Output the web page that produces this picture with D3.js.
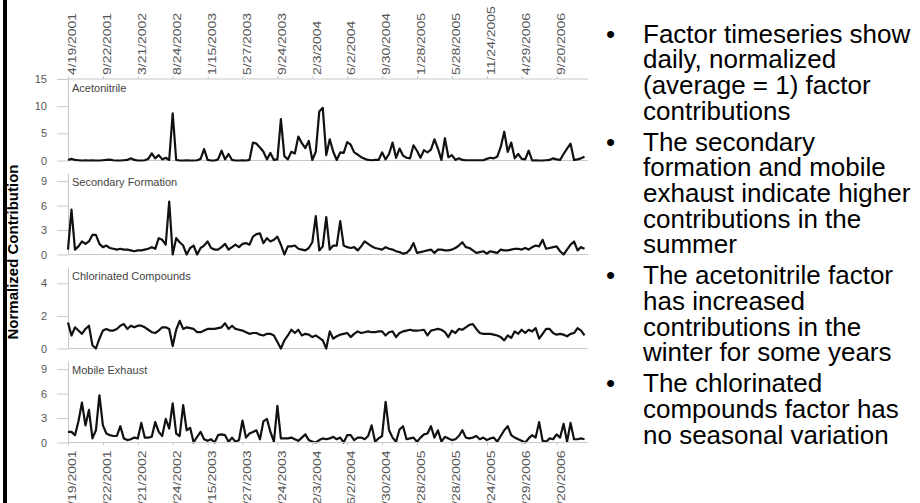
<!DOCTYPE html>
<html>
<head>
<meta charset="utf-8">
<title>Factor timeseries</title>
<script src="https://cdn.jsdelivr.net/npm/d3@7"></script>
<style>
  body { margin: 0; background: #fff; }
  svg { display: block; font-family: Arial, "Liberation Sans", sans-serif; }
  .axis .domain, .axis line { stroke: #c8c8c8; }
  .axis text { fill: #555; font-size: 11px; }
  .series { fill: none; stroke: #111; stroke-width: 2.2; stroke-linejoin: round; }
  .ptitle { fill: #444; font-size: 11px; }
  .bullets text { fill: #000; font-size: 26px; }
</style>
</head>
<body>
<svg id="chart" width="920" height="503"></svg>
<script>
// sample dates labelled every 10th sample
var dates = ["4/19/2001", "9/22/2001", "3/21/2002", "8/24/2002", "1/15/2003", "5/27/2003",
  "9/24/2003", "2/3/2004", "6/2/2004", "9/30/2004", "1/28/2005", "5/28/2005",
  "11/24/2005", "4/29/2006", "9/20/2006"];

var factorNames = ["Acetonitrile", "Secondary Formation", "Chlorinated Compounds", "Mobile Exhaust"];
var yMax = [15, 10, 5, 10];
var yTicks = [[0, 5, 10, 15], [0, 3, 6, 9], [0, 2, 4], [0, 3, 6, 9]];

var acetonitrile = [
  0.1, 0.3, 0.1, 0.05, 0, 0.05, 0, 0.05, 0, 0, 0.05, 0.1, 0.15, 0.05, 0, 0, 0.05, 0.1, 0.4, 0.1,
  0, 0, 0.05, 0.3, 1.3, 0.4, 1.0, 0.2, 0.5, 0.1, 8.7, 0.1, 0, 0, 0.05, 0, 0, 0.05, 0.3, 2.1,
  0.1, 0, 0, 0.2, 1.8, 0.2, 1.2, 0.1, 0, 0, 0.05, 0, 0.1, 3.3, 3.1, 2.4, 1.6, 0.2, 1.4, 0.1,
  0.2, 7.6, 0.8, 0.2, 1.6, 1.3, 4.4, 3.2, 2.3, 3.6, 0.1, 1.6, 9.0, 9.7, 1.0, 3.9, 1.6, 0.1, 1.5, 1.4,
  3.4, 2.9, 1.5, 1.1, 0.6, 0.3, 0.1, 0.05, 0.1, 0.1, 1.5, 0.2, 1.2, 3.3, 0.5, 2.2, 0.9, 0.5, 0.4, 2.8,
  1.8, 0.5, 1.9, 1.5, 2.0, 3.9, 2.2, 0.1, 4.1, 0.6, 1.0, 0.1, 0.4, 0.1, 0.05, 0.05, 0.05, 0.05, 0.05, 0.05,
  0.3, 0.5, 0.4, 0.7, 2.5, 5.3, 1.6, 3.3, 0.4, 1.2, 0.3, 0.2, 1.8, 0.0, 0.05, 0, 0, 0.05, 0.1, 0.4,
  0.2, 0.1, 1.2, 2.2, 3.1, 0.1, 0.2, 0.4, 0.7
];

var secondaryFormation = [
  0.6, 5.5, 0.6, 1.0, 1.6, 1.3, 1.6, 2.4, 2.4, 1.3, 0.9, 1.1, 0.8, 0.7, 0.6, 0.7, 0.6, 0.6, 0.5, 0.4,
  0.5, 0.5, 0.6, 0.7, 0.9, 0.7, 2.0, 1.8, 1.2, 6.5, 0.0, 2.0, 1.5, 1.1, 0.0, 0.8, 1.1, 0.0, 0.8, 1.1,
  1.6, 0.8, 0.6, 0.6, 0.9, 1.3, 0.6, 0.9, 1.2, 0.9, 1.3, 1.4, 1.2, 2.2, 2.5, 2.6, 1.4, 2.0, 1.6, 1.8,
  2.2, 1.2, 0.0, 1.0, 1.0, 1.1, 0.7, 0.6, 0.5, 0.8, 1.5, 4.7, 0.5, 1.0, 4.6, 0.6, 1.1, 1.1, 4.1, 1.1,
  0.9, 0.8, 0.9, 0.5, 1.0, 1.6, 1.3, 1.0, 0.8, 0.7, 0.6, 0.9, 0.7, 0.6, 0.4, 0.3, 0.1, 0.2, 0.6, 1.4,
  0.2, 0.3, 0.4, 0.5, 0.6, 0.2, 0.6, 0.6, 0.5, 0.5, 0.6, 0.8, 1.1, 1.5, 0.9, 0.8, 0.5, 0.2, 0.3, 0.4,
  0.1, 0.4, 0.3, 0.2, 0.6, 0.5, 0.5, 0.6, 0.7, 0.7, 0.6, 0.8, 0.6, 0.9, 1.1, 1.0, 1.8, 0.7, 0.8, 0.9,
  1.0, 0.4, 0.0, 0.6, 1.2, 1.6, 0.5, 0.9, 0.7
];

var chlorinated = [
  1.6, 0.8, 1.3, 1.1, 0.9, 1.2, 1.4, 0.2, 0.0, 0.6, 1.1, 1.2, 1.1, 1.1, 1.2, 1.4, 1.5, 1.2, 1.4, 1.3,
  1.4, 1.4, 1.3, 1.15, 1.0, 0.95, 1.1, 1.3, 1.3, 1.2, 0.15, 1.15, 1.7, 1.2, 1.3, 1.25, 1.2, 1.0, 1.0, 1.1,
  1.2, 1.2, 1.2, 1.25, 1.3, 1.55, 1.2, 1.4, 1.2, 1.15, 1.1, 1.0, 0.9, 0.95, 0.95, 0.85, 0.8, 0.9, 0.9, 0.8,
  0.4, 0.0, 0.5, 0.8, 1.15, 0.95, 1.15, 0.8, 0.9, 0.85, 0.7, 0.8, 0.65, 0.5, 0.0, 1.05, 0.6, 0.75, 0.85, 0.9,
  0.95, 0.7, 0.9, 1.05, 0.95, 1.0, 1.05, 1.0, 1.0, 1.05, 1.05, 0.8, 1.0, 1.05, 0.7, 0.95, 1.05, 1.1, 1.15, 1.1,
  1.1, 1.12, 1.15, 0.8, 1.1, 1.15, 1.2, 1.15, 1.0, 0.7, 1.1, 0.95, 1.2, 1.15, 1.3, 1.45, 1.5, 1.2, 0.95, 0.9,
  0.9, 0.9, 0.85, 0.8, 0.7, 0.5, 0.8, 0.65, 1.05, 0.9, 1.15, 0.95, 1.15, 1.05, 1.25, 0.6, 0.9, 1.2, 1.2, 0.95,
  0.85, 0.9, 0.85, 0.75, 0.9, 0.95, 1.25, 1.1, 0.8
];

var mobileExhaust = [
  1.3, 1.3, 0.9, 2.6, 4.9, 2.1, 4.0, 0.5, 1.5, 5.8, 2.1, 1.1, 0.9, 0.8, 0.8, 2.0, 0.5, 0.3, 0.4, 0.6,
  0.5, 2.4, 0.6, 0.6, 0.7, 2.5, 1.3, 0.8, 2.9, 1.7, 4.8, 1.1, 0.8, 4.6, 1.5, 1.8, 0.0, 0.7, 1.3, 0.4,
  0.2, 0.4, 0.0, 0.9, 1.0, 0.9, 0.1, 0.6, 0.1, 0.3, 2.7, 0.6, 1.1, 1.3, 1.5, 0.4, 2.6, 2.9, 1.3, 0.1,
  4.5, 0.5, 0.5, 0.5, 0.6, 0.4, 0.2, 0.6, 1.0, 0.3, 0.1, 0.0, 0.3, 0.5, 0.4, 0.5, 0.7, 0.4, 0.6, 0.0,
  0.9, 0.9, 0.3, 0.6, 0.6, 0.4, 0.8, 2.1, 0.1, 0.5, 0.8, 5.0, 1.5, 0.6, 0.1, 1.6, 2.0, 0.4, 0.5, 0.6,
  0.1, 0.6, 1.0, 1.1, 2.0, 0.6, 1.5, 0.1, 0.7, 0.5, 0.3, 0.4, 0.8, 1.5, 0.6, 0.5, 0.6, 0.8, 0.4, 0.6,
  0.3, 0.5, 0.6, 0.1, 0.8, 1.5, 2.0, 0.9, 0.6, 0.4, 0.2, 0.0, 0.5, 0.9, 0.6, 2.5, 0.2, 0.1, 0.5, 0.4,
  1.0, 0.6, 2.3, 0.1, 2.4, 0.4, 0.4, 0.5, 0.4
];

var series = [acetonitrile, secondaryFormation, chlorinated, mobileExhaust];

var bullets = [
  ["Factor timeseries show", "daily, normalized", "(average = 1) factor", "contributions"],
  ["The secondary", "formation and mobile", "exhaust indicate higher", "contributions in the", "summer"],
  ["The acetonitrile factor", "has increased", "contributions in the", "winter for some years"],
  ["The chlorinated", "compounds factor has", "no seasonal variation"]
];

var svg = d3.select("#chart");

var left = 68, right = 588;
var firstBase = 160.5, panelStep = 94, panelH = 81.5;

var x = d3.scaleLinear().domain([0, acetonitrile.length]).range([left, right]);
var tickIdx = dates.map(function(d, i) { return i * 10; });
function dateLabel(i) { return dates[i / 10]; }

// left black rule
svg.append("rect").attr("x", 3).attr("y", 0).attr("width", 4).attr("height", 503).attr("fill", "#000");

// y title
svg.append("text")
  .attr("transform", "translate(18,252) rotate(-90)")
  .attr("text-anchor", "middle")
  .style("font-size", "15px").style("font-weight", "bold").attr("fill", "#000")
  .text("Normalized Contribution");

// panels
series.forEach(function(vals, k) {
  var base = firstBase + k * panelStep;
  var y = d3.scaleLinear().domain([0, yMax[k]]).range([base, base - panelH]);
  var g = svg.append("g");

  g.append("line")
    .attr("x1", left).attr("x2", right).attr("y1", base).attr("y2", base)
    .attr("stroke", "#c8c8c8");

  g.append("g").attr("class", "axis")
    .attr("transform", "translate(" + left + ",0)")
    .call(d3.axisLeft(y).tickValues(yTicks[k]).tickFormat(d3.format("d"))
      .tickSize(11).tickSizeOuter(0).tickPadding(10));

  g.append("text").attr("class", "ptitle")
    .attr("x", left + 4).attr("y", base - panelH + 13)
    .text(factorNames[k]);

  g.append("path").datum(vals).attr("class", "series")
    .attr("d", d3.line().x(function(d, i) { return x(i); }).y(function(d) { return y(d); }));
});

// top date axis
var topY = firstBase - panelH;
var topAxis = svg.append("g").attr("class", "axis")
  .attr("transform", "translate(0," + topY + ")")
  .call(d3.axisTop(x).tickValues(tickIdx).tickFormat(dateLabel).tickSize(3).tickSizeOuter(0));
topAxis.select(".domain").attr("d", "M" + left + ",0H" + right);
topAxis.selectAll("text")
  .attr("x", 0).attr("y", 0).attr("dy", "0.7em")
  .attr("transform", "translate(0,-4) rotate(-90) scale(1.27,1)")
  .style("text-anchor", "start");

// bottom date axis (labels run off the bottom edge, as in the original slide)
var botY = firstBase + 3 * panelStep;
var botAxis = svg.append("g").attr("class", "axis")
  .attr("transform", "translate(0," + botY + ")")
  .call(d3.axisBottom(x).tickValues(tickIdx).tickFormat(dateLabel).tickSize(3).tickSizeOuter(0));
botAxis.select(".domain").attr("d", "M" + left + ",0H" + right);
botAxis.selectAll("text")
  .attr("x", 0).attr("y", 0).attr("dy", "0.7em")
  .attr("transform", "translate(0,8) rotate(-90) scale(1.27,1)")
  .style("text-anchor", "end");

// bullet text, one text element per bullet
var bg = svg.append("g").attr("class", "bullets");
var lineH = 25.6, groupGap = 5.6, yy = 42.7;
bullets.forEach(function(lines) {
  bg.append("text").attr("x", 606).attr("y", yy).text("\u2022");
  var t = bg.append("text").attr("x", 643).attr("y", yy);
  t.selectAll("tspan").data(lines).enter().append("tspan")
    .attr("x", 643)
    .attr("dy", function(d, j) { return j === 0 ? 0 : lineH; })
    .text(function(d) { return d; });
  yy += lines.length * lineH + groupGap;
});
</script>
</body>
</html>
